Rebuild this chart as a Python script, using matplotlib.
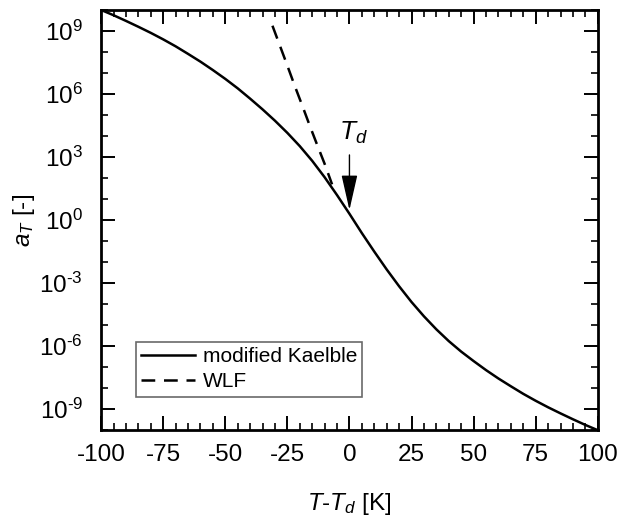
import numpy as np
import matplotlib
matplotlib.use("Agg")
import matplotlib.pyplot as plt
from matplotlib.ticker import FixedLocator, NullFormatter, FuncFormatter

plt.rcParams['font.family'] = ['Liberation Sans', 'DejaVu Sans']
plt.rcParams['mathtext.fontset'] = 'custom'
plt.rcParams['mathtext.rm'] = 'Liberation Sans'
plt.rcParams['mathtext.it'] = 'Liberation Sans:italic'
plt.rcParams['mathtext.default'] = 'regular'
plt.rcParams['axes.unicode_minus'] = False

# modified Kaelble curve (log10 of a_T)
t_kaelble = [-100, -95, -90, -85, -80, -75, -70, -65, -60, -55, -50, -45, -40, -35, -30,
             -25, -20, -15, -10, -5, 0, 5, 10, 15, 20, 25, 30, 35, 40, 45, 50, 55, 60,
             65, 70, 75, 80, 85, 90, 95, 100]
log_kaelble = [10.0, 9.75, 9.48, 9.20, 8.91, 8.60, 8.27, 7.91, 7.54, 7.14, 6.72, 6.27, 5.78,
               5.27, 4.73, 4.15, 3.52, 2.82, 2.04, 1.19, 0.30, -0.62, -1.50, -2.35, -3.15,
               -3.90, -4.58, -5.20, -5.76, -6.26, -6.71, -7.14, -7.54, -7.91, -8.27, -8.60,
               -8.91, -9.20, -9.48, -9.75, -10.0]

# WLF curve (only near T_d and below)
t_wlf = [-31, -28, -25, -22, -19, -16, -13, -10, -7]
log_wlf = [9.25, 8.30, 7.35, 6.38, 5.45, 4.50, 3.58, 2.68, 1.70]


def pow_label(v, pos):
    e = int(round(np.log10(v)))
    if e < 0:
        return r'$10^{\text{-}%d}$' % (-e)
    return r'$10^{%d}$' % e


fig = plt.figure(figsize=(6.24, 5.24), dpi=100)
ax = fig.add_axes([0.162, 0.179, 0.796, 0.802])

ax.plot(t_kaelble, 10.0 ** np.array(log_kaelble), color='black', lw=1.8, label='modified Kaelble')
ax.plot(t_wlf, 10.0 ** np.array(log_wlf), color='black', lw=1.8, dashes=(5.5, 3.5), label='WLF')

ax.set_yscale('log')
ax.set_xlim(-100, 100)
ax.set_ylim(1e-10, 1e10)

ax.xaxis.set_major_locator(FixedLocator(np.arange(-100, 101, 25)))
ax.xaxis.set_minor_locator(FixedLocator(np.arange(-100, 101, 5)))
ax.yaxis.set_major_locator(FixedLocator(10.0 ** np.arange(-9, 10, 3)))
ax.yaxis.set_minor_locator(FixedLocator(10.0 ** np.arange(-10, 11)))
ax.yaxis.set_major_formatter(FuncFormatter(pow_label))
ax.yaxis.set_minor_formatter(NullFormatter())

ax.tick_params(which='both', direction='in', top=True, right=True, labelsize=17.5)
ax.tick_params(which='major', length=10, width=1.4)
ax.tick_params(which='minor', length=5, width=1.2)
ax.tick_params(axis='x', which='major', pad=10)
ax.tick_params(axis='y', which='major', pad=13)
for s in ax.spines.values():
    s.set_linewidth(2.0)

ax.set_xlabel(r'$\mathit{T}$-$\mathit{T}_{\mathit{d}}$ [K]', fontsize=17.5, labelpad=18)
ax.set_ylabel(r'$\mathit{a}_{\mathit{T}}$ [-]', fontsize=17.5, labelpad=2)

ax.annotate('', xy=(0, 10 ** 0.48), xytext=(0, 10 ** 3.1),
            arrowprops=dict(arrowstyle='-|>,head_length=2.2,head_width=0.5',
                            mutation_scale=10, lw=1.0, color='black', shrinkA=0, shrinkB=0))
ax.text(1.8, 10 ** 4.15, r'$\mathit{T}_{\mathit{d}}$', fontsize=19, ha='center', va='center')

leg = ax.legend(loc='upper left', bbox_to_anchor=(0.07, 0.21), borderaxespad=0,
                fontsize=15, frameon=True, fancybox=False, edgecolor='#444444',
                handlelength=2.6, handletextpad=0.35, labelspacing=0.3, borderpad=0.25)
leg.get_frame().set_linewidth(1.2)

fig.savefig('out.png', dpi=100)
